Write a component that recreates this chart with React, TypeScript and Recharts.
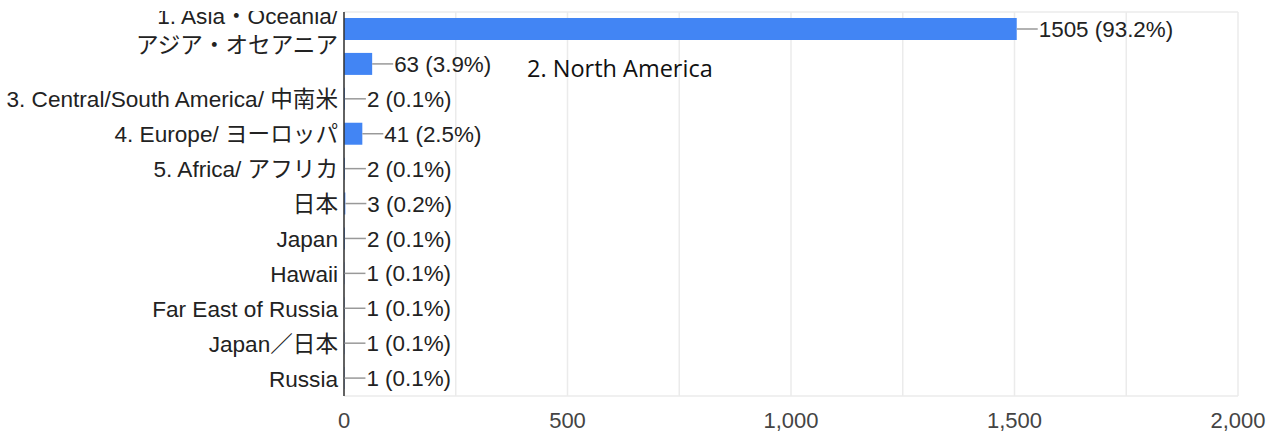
import { BarChart, Bar, XAxis, YAxis, CartesianGrid, LabelList } from 'recharts'

const regions = [
  '1. Asia・Oceania/\nアジア・オセアニア',
  '2. North America',
  '3. Central/South America/ 中南米',
  '4. Europe/ ヨーロッパ',
  '5. Africa/ アフリカ',
  '日本',
  'Japan',
  'Hawaii',
  'Far East of Russia',
  'Japan／日本',
  'Russia',
]
const counts = [1505, 63, 2, 41, 2, 3, 2, 1, 1, 1, 1]
const shares = ['93.2%', '3.9%', '0.1%', '2.5%', '0.1%', '0.2%', '0.1%', '0.1%', '0.1%', '0.1%', '0.1%']
const xTicks = [0, 250, 500, 750, 1000, 1250, 1500, 1750, 2000]
const labeledTicks = [0, 500, 1000, 1500, 2000]

const data = regions.map((region, i) => ({ region, count: counts[i], share: shares[i] }))

const FONT = '"Liberation Sans", Arial, "Noto Sans CJK JP", sans-serif'

function RegionTick(props: any) {
  const { x, y, payload } = props
  const value: string = payload.value
  if (value === '2. North America') {
    // this one sits inside the plot, pasted on in a different font
    return (
      <text x={527} y={77} fontFamily='"Open Sans", sans-serif' fontSize={23.5} fill="#111">
        {value}
      </text>
    )
  }
  const lines = value.split('\n')
  if (lines.length > 1) {
    return (
      <g>
        <defs>
          <clipPath id="labelTopClip">
            <rect x={0} y={11} width={400} height={500} />
          </clipPath>
        </defs>
        <text x={x} textAnchor="end" fontFamily={FONT} fontSize={22.6} fill="#222" clipPath="url(#labelTopClip)">
          <tspan x={x} y={y - 5.5}>{lines[0]}</tspan>
          <tspan x={x} y={y + 23.5}>{lines[1]}</tspan>
        </text>
      </g>
    )
  }
  return (
    <text x={x} y={y} dy="0.36em" textAnchor="end" fontFamily={FONT} fontSize={22.6} fill="#222">
      {value}
    </text>
  )
}

function CountTick(props: any) {
  const { x, y, payload } = props
  if (!labeledTicks.includes(payload.value)) return null
  return (
    <text x={x} y={y} dy="0.71em" textAnchor="middle" fontFamily={FONT} fontSize={22} fill="#444">
      {payload.value.toLocaleString('en-US')}
    </text>
  )
}

function ValueLabel(props: any) {
  const { x, y, width, height, index } = props
  const end = x + width
  const cy = y + height / 2
  return (
    <g>
      <line x1={end} y1={cy} x2={end + 21} y2={cy} stroke="#999" strokeWidth={1.5} />
      <text x={end + 22} y={cy} dy="0.36em" fontFamily={FONT} fontSize={22.4} fill="#222">
        {`${counts[index]} (${shares[index]})`}
      </text>
    </g>
  )
}

export default function App() {
  return (
    <div style={{ position: 'absolute', left: 0, top: 0, width: 1278, height: 437, background: '#fff' }}>
      <BarChart
        width={1278}
        height={437}
        data={data}
        layout="vertical"
        margin={{ top: 12, right: 40, left: 0, bottom: 11 }}
        barSize={22}
      >
        <CartesianGrid stroke="#ebebeb" strokeWidth={1.5} horizontalPoints={[12, 396]} />
        <XAxis
          type="number"
          domain={[0, 2000]}
          ticks={xTicks}
          interval={0}
          axisLine={false}
          tickLine={false}
          tickSize={0}
          tickMargin={16}
          height={30}
          tick={<CountTick />}
        />
        <YAxis
          type="category"
          dataKey="region"
          width={344}
          interval={0}
          tickLine={false}
          tickSize={0}
          tickMargin={6}
          axisLine={{ stroke: '#333', strokeWidth: 1.5 }}
          tick={<RegionTick />}
        />
        <Bar dataKey="count" fill="#4285f4" isAnimationActive={false}>
          <LabelList dataKey="count" content={<ValueLabel />} />
        </Bar>
      </BarChart>
    </div>
  )
}
